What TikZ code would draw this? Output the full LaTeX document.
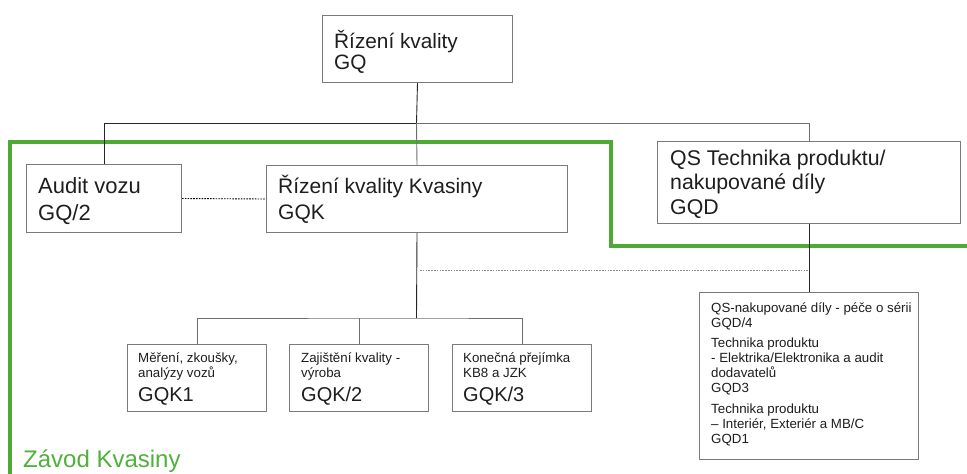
\documentclass[tikz,border=0pt]{standalone}
\usepackage{fontspec}
\setmainfont{Liberation Sans}
\definecolor{kgreen}{HTML}{4EAA34}
\definecolor{ktext}{HTML}{4FB03A}
\definecolor{boxgray}{HTML}{7A7A7A}
\definecolor{linegray}{HTML}{6E6E6E}
\definecolor{ink}{HTML}{1E1E1E}
\begin{document}
\begin{tikzpicture}[x=1pt,y=-1pt,
  box/.style={draw=boxgray, line width=1pt, inner sep=0pt, anchor=north west, fill=white},
  txt/.style={anchor=base west, inner sep=0pt, align=left, text=ink},
  code/.style={txt, font=\fontsize{20}{24}\selectfont},
  small/.style={txt, font=\fontsize{13.3}{15}\selectfont},
  conn/.style={draw=linegray, line width=0.9pt},
  trunk/.style={draw=black!85, line width=0.9pt},
  link/.style={line width=0.9pt, dash pattern=on 1.6pt off 1.2pt},
  frame/.style={draw=kgreen, line width=3.6pt}]
\useasboundingbox (0,0) rectangle (967,474);

% plant boundary
\draw[frame] (10,474) -- (10,142) -- (611,142) -- (611,246) -- (967,246);
\node[anchor=base west, inner sep=0pt, text=ktext, font=\fontsize{24}{28}\selectfont] (zavod) at (23,467) {Závod Kvasiny};

% boxes
\node[box, minimum width=190, minimum height=67] (gq) at (322,15) {};
\node[box, minimum width=155, minimum height=68] (audit) at (26,164) {};
\node[box, minimum width=301, minimum height=67] (gqk) at (266,165) {};
\node[box, minimum width=303, minimum height=82] (gqd) at (657,141) {};
\node[box, minimum width=139, minimum height=67] (k1) at (127,344) {};
\node[box, minimum width=139, minimum height=67] (k2) at (289,344) {};
\node[box, minimum width=139, minimum height=67] (k3) at (452,344) {};
\node[box, minimum width=219, minimum height=167] (gqdsub) at (699,292) {};

% box texts (anchored on the baseline of their last line)
\node[txt, font=\fontsize{20.8}{21}\selectfont] (gqt) at (334,69) {Řízení kvality\\GQ};
\node[txt, font=\fontsize{22}{27}\selectfont] (auditt) at (38,220) {Audit vozu\\GQ/2};
\node[txt, font=\fontsize{21}{26}\selectfont] (gqkt) at (278,219) {Řízení kvality Kvasiny\\GQK};
\node[txt, font=\fontsize{21.3}{24.5}\selectfont] (gqdt) at (670,214) {QS Technika produktu/\\nakupované díly\\GQD};

\node[small] (k1t) at (138,377) {Měření, zkoušky,\\analýzy vozů};
\node[code] (k1c) at (138,401) {GQK1};
\node[small] (k2t) at (301,377) {Zajištění kvality -\\výroba};
\node[code] (k2c) at (301,401) {GQK/2};
\node[small] (k3t) at (463,377) {Konečná přejímka\\KB8 a JZK};
\node[code] (k3c) at (463,401) {GQK/3};

\node[small] (subt) at (711,443) {QS-nakupované díly - péče o sérii\\GQD/4\\[5.5pt]
  Technika produktu\\- Elektrika/Elektronika a audit\\dodavatelů\\GQD3\\[5.5pt]
  Technika produktu\\– Interiér, Exteriér a MB/C\\GQD1};

% connectors
\coordinate (bus) at (416.5,123);
\coordinate (kbus) at (416.5,318);
\draw[trunk] (gq.south) -- (bus);
\draw[trunk] (audit.north) |- (bus);
\draw[conn] (bus) -| (gqd.north);
\draw[conn] (bus) -- (gqk.north);
\draw[trunk] (gqk.south) -- (kbus);
\draw[conn] (k1.north) |- (kbus) -| (k3.north);
\draw[conn] (k2.north) -- (k2.north |- kbus);
\draw[trunk] (gqd.south) -- (gqdsub.north);
\draw[link, draw=black] (audit.east) -- (gqk.west);
\coordinate (dline) at (420,270.5);
\draw[link, draw=black!45] (dline) -- (dline -| gqdsub.north);
\end{tikzpicture}
\end{document}
